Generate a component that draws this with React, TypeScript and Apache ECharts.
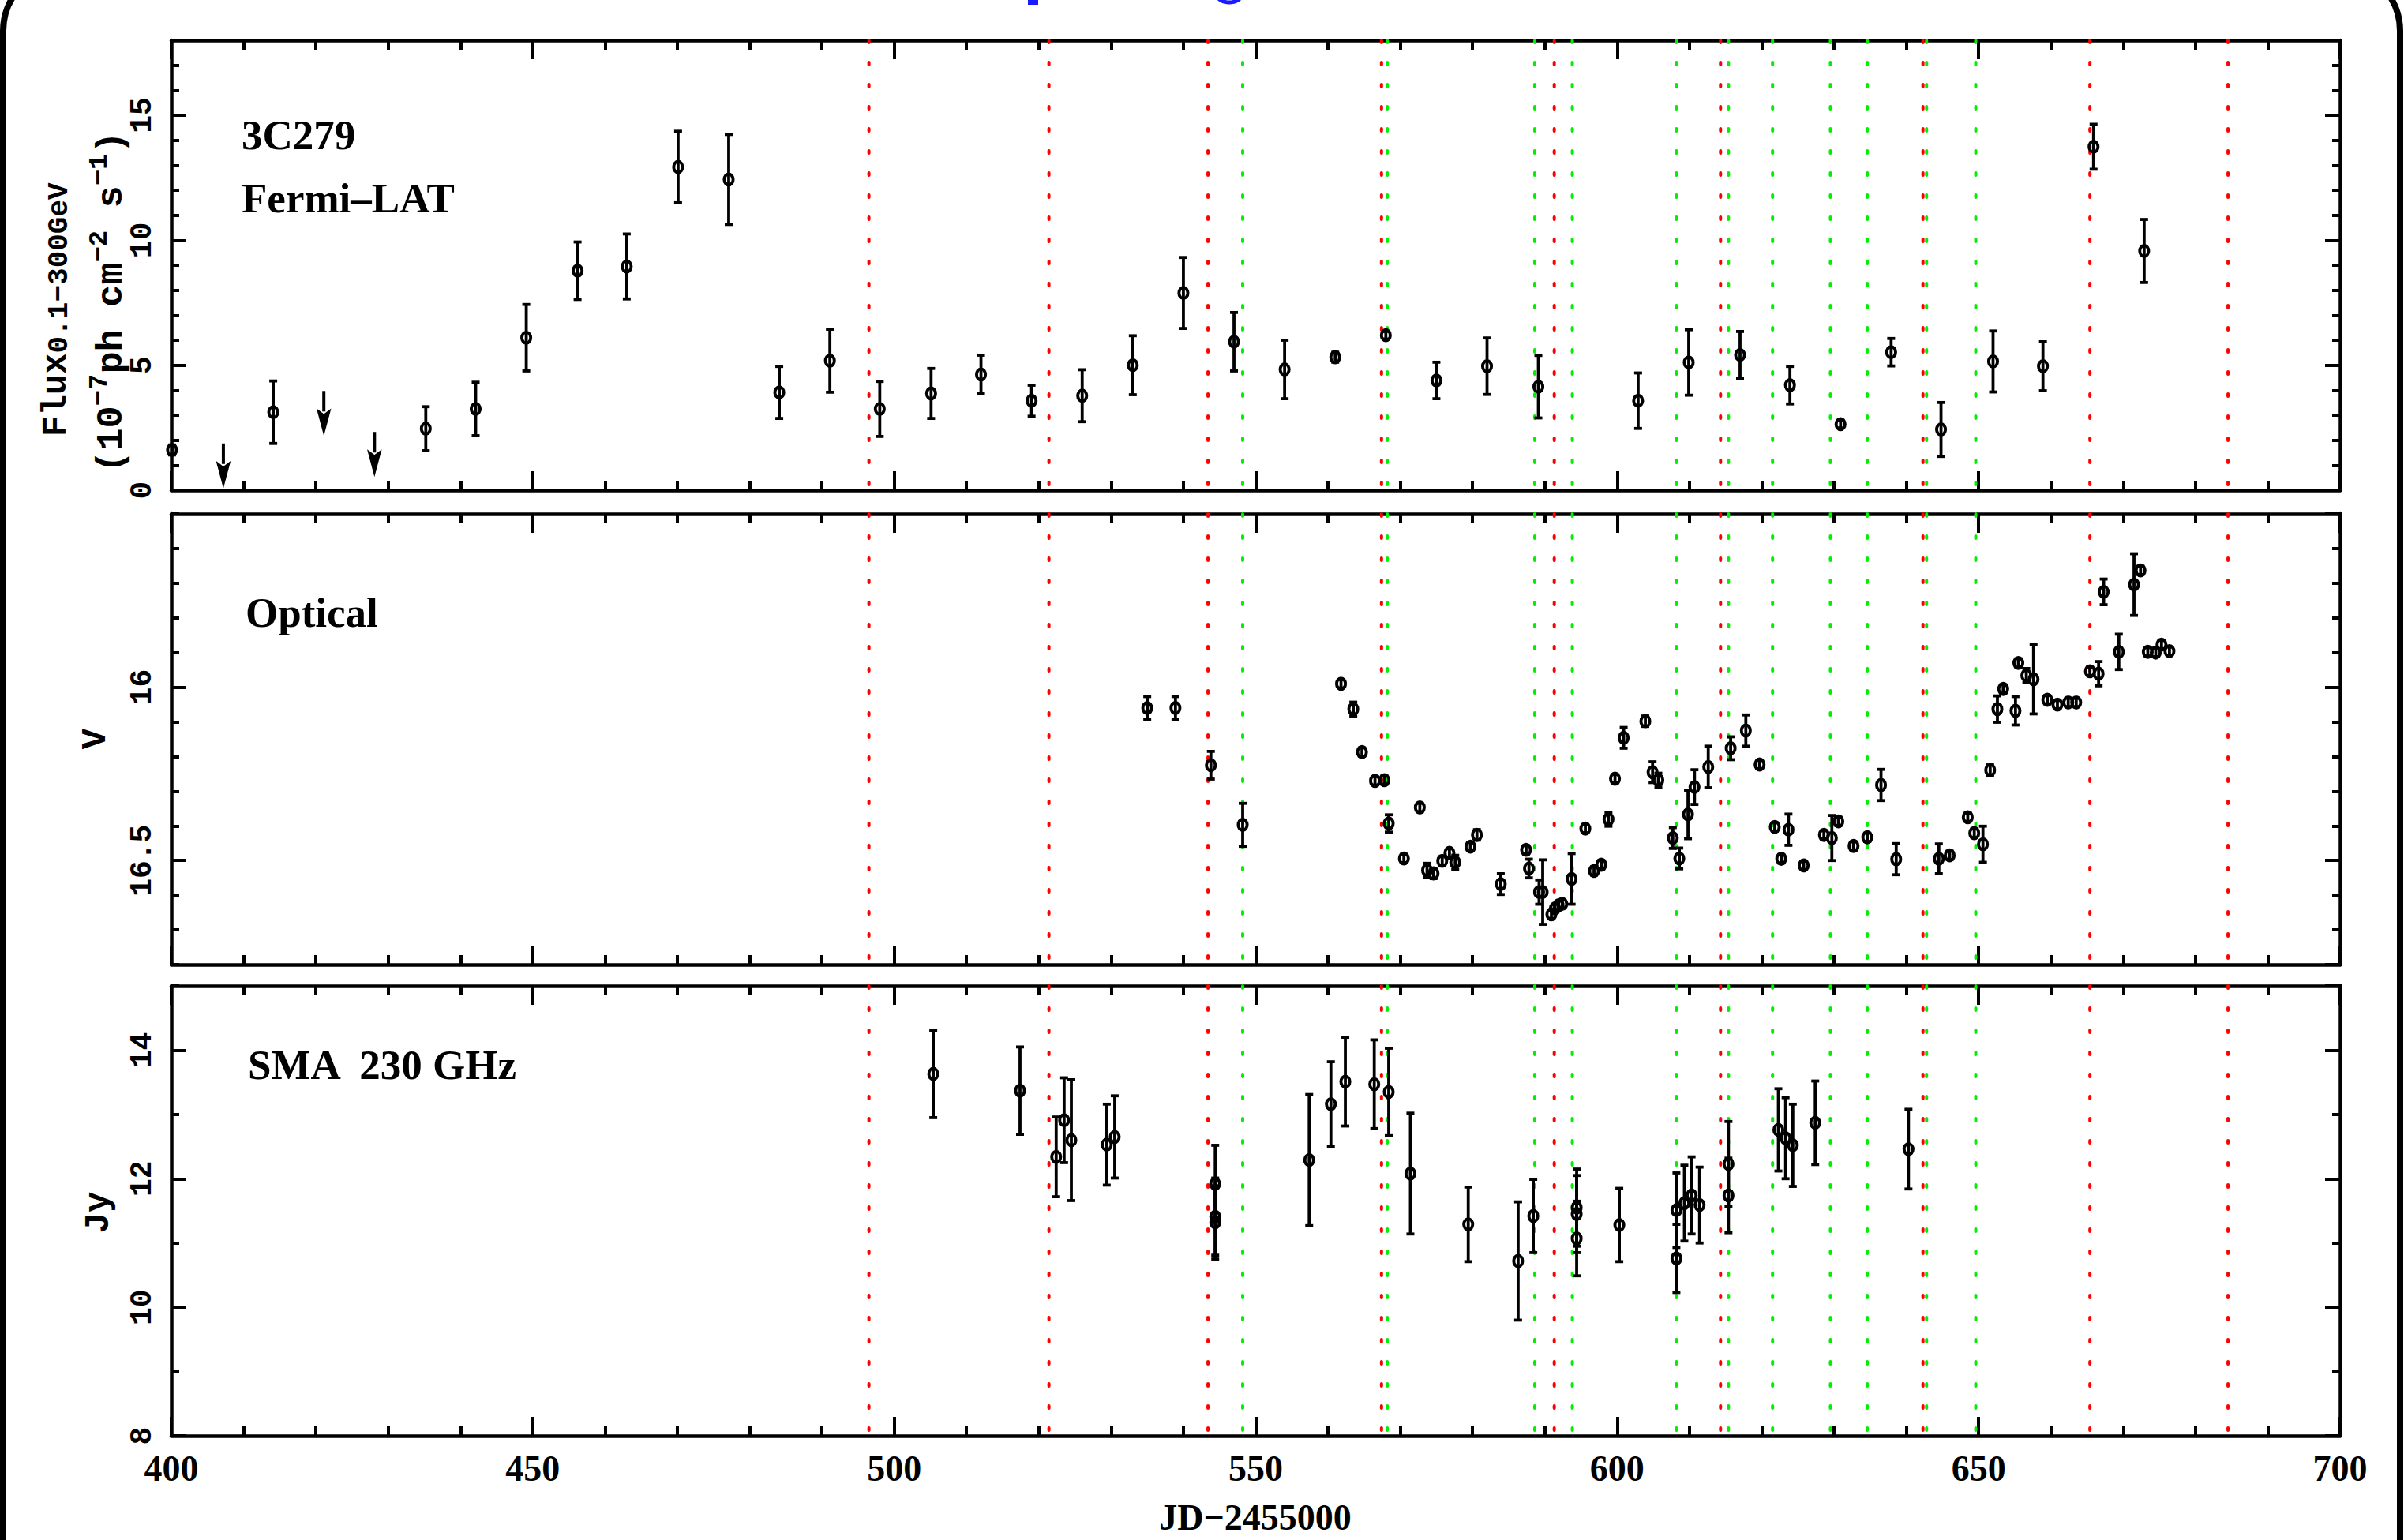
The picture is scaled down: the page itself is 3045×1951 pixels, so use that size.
import React, { useEffect, useRef } from "react";
import * as echarts from "echarts";

// ---------------- data ----------------
const X_MIN = 400;
const X_MAX = 700;

const redLines = [496.5, 521.4, 543.4, 567.4, 591.3, 614.3, 642.3, 665.4, 684.5];
const greenLines = [548.2, 568.2, 588.6, 593.8, 608.2, 615.4, 621.5, 629.5, 634.6, 642.8, 649.6];

const fermiDays = [400.1, 414.1, 435.2, 442.1, 449.1, 456.2, 463.0, 470.1, 477.1, 484.1, 491.1, 498.0, 505.1, 512.0, 519.0, 526.0, 533.0, 540.0, 547.0, 554.0, 561.0, 568.0, 575.0, 582.0, 589.1, 602.9, 609.9, 617.0, 623.9, 630.9, 637.9, 644.8, 652.0, 658.9, 665.9, 672.9];
const fermiFlux = [1.61, 3.12, 2.46, 3.25, 6.10, 8.78, 8.95, 12.93, 12.43, 3.91, 5.18, 3.25, 3.87, 4.63, 3.58, 3.78, 5.0, 7.89, 5.94, 4.83, 5.32, 6.20, 4.39, 4.96, 4.14, 3.58, 5.11, 5.41, 4.20, 2.64, 5.52, 2.43, 5.15, 4.96, 13.74, 9.57];
const fermiErr = [0.2, 1.25, 0.88, 1.07, 1.33, 1.15, 1.3, 1.43, 1.8, 1.04, 1.26, 1.1, 1.0, 0.77, 0.62, 1.04, 1.18, 1.42, 1.17, 1.17, 0.2, 0.15, 0.73, 1.13, 1.25, 1.11, 1.31, 0.94, 0.75, 0.15, 0.55, 1.08, 1.22, 0.98, 0.9, 1.26];
const fermiUlDays = [407.2, 421.1, 428.1];
const fermiUlFlux = [1.87, 3.97, 2.33];

const optDays = [535.0, 538.9, 543.8, 548.2, 561.8, 563.5, 564.7, 566.5, 567.8, 568.4, 570.5, 572.7, 573.7, 574.6, 575.8, 576.8, 577.6, 579.7, 580.6, 583.9, 587.4, 587.8, 589.2, 589.7, 590.9, 591.4, 591.9, 592.4, 593.7, 595.6, 596.8, 597.8, 598.8, 599.7, 600.9, 603.9, 604.9, 605.7, 607.7, 608.6, 609.8, 610.7, 612.6, 615.7, 617.8, 619.7, 621.8, 622.7, 623.7, 625.8, 628.6, 629.7, 630.6, 632.7, 634.6, 636.5, 638.6, 644.5, 646.0, 648.5, 649.4, 650.6, 651.6, 652.6, 653.4, 655.1, 655.5, 656.6, 657.6, 659.5, 660.9, 662.4, 663.5, 665.4, 666.6, 667.3, 669.4, 671.5, 672.4, 673.4, 674.5, 675.3, 676.4];
const optMag = [16.06, 16.06, 16.225, 16.397, 15.99, 16.063, 16.187, 16.27, 16.268, 16.393, 16.494, 16.347, 16.528, 16.537, 16.501, 16.478, 16.505, 16.46, 16.426, 16.568, 16.469, 16.523, 16.591, 16.591, 16.655, 16.638, 16.629, 16.625, 16.553, 16.408, 16.53, 16.512, 16.381, 16.264, 16.146, 16.098, 16.245, 16.268, 16.435, 16.494, 16.367, 16.288, 16.23, 16.176, 16.125, 16.223, 16.403, 16.495, 16.411, 16.514, 16.426, 16.435, 16.387, 16.458, 16.433, 16.282, 16.496, 16.495, 16.485, 16.375, 16.421, 16.453, 16.239, 16.063, 16.005, 16.068, 15.93, 15.966, 15.977, 16.036, 16.05, 16.044, 16.044, 15.954, 15.961, 15.725, 15.898, 15.704, 15.663, 15.898, 15.9, 15.877, 15.896];
const optErr = [0.033, 0.033, 0.04, 0.062, 0.012, 0.02, 0.012, 0.012, 0.012, 0.025, 0.012, 0.012, 0.02, 0.015, 0.012, 0.012, 0.02, 0.012, 0.015, 0.03, 0.012, 0.027, 0.035, 0.093, 0.012, 0.012, 0.012, 0.012, 0.073, 0.012, 0.012, 0.012, 0.02, 0.012, 0.03, 0.015, 0.03, 0.02, 0.03, 0.03, 0.07, 0.05, 0.06, 0.033, 0.045, 0.012, 0.012, 0.012, 0.045, 0.012, 0.012, 0.065, 0.012, 0.012, 0.012, 0.045, 0.045, 0.043, 0.012, 0.012, 0.012, 0.052, 0.015, 0.038, 0.012, 0.041, 0.012, 0.02, 0.1, 0.012, 0.012, 0.012, 0.012, 0.012, 0.035, 0.037, 0.051, 0.089, 0.012, 0.012, 0.012, 0.012, 0.012];

const smaDays = [505.4, 517.4, 522.4, 523.5, 524.5, 529.4, 530.5, 544.4, 544.4, 544.4, 557.4, 560.4, 562.4, 566.4, 568.4, 571.4, 579.4, 586.3, 588.4, 594.4, 594.4, 594.4, 600.3, 608.2, 608.2, 609.3, 610.3, 611.4, 615.4, 615.4, 622.3, 623.3, 624.3, 627.4, 640.3];
const smaJy = [13.63, 13.37, 12.34, 12.91, 12.60, 12.53, 12.65, 11.92, 11.41, 11.32, 12.29, 13.16, 13.51, 13.47, 13.35, 12.08, 11.29, 10.72, 11.42, 11.55, 11.45, 11.07, 11.28, 11.51, 10.76, 11.62, 11.74, 11.59, 12.23, 11.74, 12.76, 12.63, 12.52, 12.87, 12.46];
const smaErr = [0.68, 0.68, 0.62, 0.66, 0.94, 0.63, 0.64, 0.6, 0.6, 0.57, 1.02, 0.66, 0.69, 0.69, 0.68, 0.94, 0.58, 0.92, 0.57, 0.6, 0.6, 0.58, 0.57, 0.58, 0.53, 0.59, 0.6, 0.59, 0.66, 0.58, 0.64, 0.63, 0.64, 0.65, 0.62];

// ---------------- layout / style ----------------
const W = 3045;
const H = 1951;
const GRID_LEFT = 217;
const GRID_RIGHT = 81;
const panels = [
  { top: 51, height: 570, yMin: 0, yMax: 18, major: 5, minor: 1, inverse: false },
  { top: 651, height: 571, yMin: 15.5, yMax: 16.8, major: 0.5, minor: 0.1, inverse: true },
  { top: 1249, height: 570, yMin: 8, yMax: 15, major: 2, minor: 1, inverse: false },
];

const BLACK = "#000000";
const RED = "#ff0000";
const GREEN = "#00f000";
const MONO = "'Liberation Mono', 'DejaVu Sans Mono', monospace";
const SERIF = "'Liberation Serif', 'DejaVu Serif', serif";

function pointRender(params: any, api: any) {
  const x = api.value(0);
  const y = api.value(1);
  const e = api.value(2);
  const c = api.coord([x, y]);
  const p1 = api.coord([x, y + e]);
  const p2 = api.coord([x, y - e]);
  const ls = { stroke: BLACK, lineWidth: 3.8, fill: null };
  const capW = 5;
  return {
    type: "group",
    children: [
      { type: "line", shape: { x1: c[0], y1: p1[1], x2: c[0], y2: p2[1] }, style: ls },
      { type: "line", shape: { x1: c[0] - capW, y1: p1[1], x2: c[0] + capW, y2: p1[1] }, style: ls },
      { type: "line", shape: { x1: c[0] - capW, y1: p2[1], x2: c[0] + capW, y2: p2[1] }, style: ls },
      { type: "ellipse", shape: { cx: c[0], cy: c[1], rx: 5.6, ry: 7 }, style: { stroke: BLACK, lineWidth: 3.9, fill: "none" } },
    ],
  };
}

function ulRender(params: any, api: any) {
  const c = api.coord([api.value(0), api.value(1)]);
  const len = 54;
  const headL = 30;
  const headW = 8;
  return {
    type: "group",
    children: [
      { type: "line", shape: { x1: c[0], y1: c[1], x2: c[0], y2: c[1] + len - headL + 2 }, style: { stroke: BLACK, lineWidth: 4 } },
      {
        type: "polygon",
        shape: { points: [[c[0] - headW, c[1] + len - headL], [c[0], c[1] + len - headL + 6], [c[0] + headW, c[1] + len - headL], [c[0], c[1] + len]] },
        style: { fill: BLACK, stroke: BLACK, lineWidth: 1.5 },
      },
    ],
  };
}

function vlineRender(color: string) {
  return (params: any, api: any) => {
    const cs = params.coordSys;
    const x = api.coord([api.value(0), api.value(1)])[0];
    return {
      type: "line",
      shape: { x1: x, y1: cs.y, x2: x, y2: cs.y + cs.height },
      style: { stroke: color, lineWidth: 4, lineDash: [3, 25], lineCap: "round" },
    };
  };
}

function buildOption() {
  const grids: any[] = [];
  const xAxes: any[] = [];
  const yAxes: any[] = [];
  const series: any[] = [];

  const tickStyle = { color: BLACK, width: 4 };
  const axisLine = { show: true, onZero: false, lineStyle: { color: BLACK, width: 4.5 } };

  panels.forEach((p, i) => {
    grids.push({ left: GRID_LEFT, right: GRID_RIGHT, top: p.top, height: p.height, containLabel: false });
    ["bottom", "top"].forEach((pos) => {
      xAxes.push({
        type: "value",
        gridIndex: i,
        position: pos,
        min: X_MIN,
        max: X_MAX,
        interval: 50,
        axisLine,
        axisTick: { show: true, inside: true, length: 24, lineStyle: tickStyle },
        minorTick: { show: true, splitNumber: 5, length: 12, lineStyle: tickStyle },
        splitLine: { show: false },
        minorSplitLine: { show: false },
        axisLabel: {
          show: i === 2 && pos === "bottom",
          fontFamily: SERIF,
          fontWeight: "bold",
          fontSize: 46,
          color: BLACK,
          margin: 18,
        },
      });
    });
    ["left", "right"].forEach((pos) => {
      yAxes.push({
        type: "value",
        gridIndex: i,
        position: pos,
        min: p.yMin,
        max: p.yMax,
        interval: p.major,
        inverse: p.inverse,
        axisLine,
        axisTick: { show: true, inside: true, length: 19, lineStyle: tickStyle },
        splitLine: { show: false },
        axisLabel: {
          show: pos === "left",
          rotate: 90,
          fontFamily: MONO,
          fontWeight: "bold",
          fontSize: 38,
          color: BLACK,
          margin: 18,
          showMinLabel: !p.inverse,
          showMaxLabel: false,
        },
      });
      yAxes.push({
        type: "value",
        gridIndex: i,
        position: pos,
        min: p.yMin,
        max: p.yMax,
        interval: p.minor,
        inverse: p.inverse,
        axisLine: { show: false, onZero: false },
        axisTick: { show: true, inside: true, length: 10, lineStyle: tickStyle },
        splitLine: { show: false },
        axisLabel: { show: false },
      });
    });

    const xi = 2 * i;
    const yi = 4 * i;
    series.push({
      type: "custom",
      xAxisIndex: xi,
      yAxisIndex: yi,
      z: 1,
      silent: true,
      renderItem: vlineRender(RED),
      encode: { x: 0, y: 1 },
      data: redLines.map((d) => [d, p.yMin]),
    });
    series.push({
      type: "custom",
      xAxisIndex: xi,
      yAxisIndex: yi,
      z: 1,
      silent: true,
      renderItem: vlineRender(GREEN),
      encode: { x: 0, y: 1 },
      data: greenLines.map((d) => [d, p.yMin]),
    });
  });

  series.push({
    type: "custom",
    xAxisIndex: 0,
    yAxisIndex: 0,
    z: 5,
    renderItem: pointRender,
    encode: { x: 0, y: 1 },
    data: fermiDays.map((d, k) => [d, fermiFlux[k], fermiErr[k]]),
  });
  series.push({
    type: "custom",
    xAxisIndex: 0,
    yAxisIndex: 0,
    z: 5,
    renderItem: ulRender,
    encode: { x: 0, y: 1 },
    data: fermiUlDays.map((d, k) => [d, fermiUlFlux[k]]),
  });
  series.push({
    type: "custom",
    xAxisIndex: 2,
    yAxisIndex: 4,
    z: 5,
    renderItem: pointRender,
    encode: { x: 0, y: 1 },
    data: optDays.map((d, k) => [d, optMag[k], optErr[k]]),
  });
  series.push({
    type: "custom",
    xAxisIndex: 4,
    yAxisIndex: 8,
    z: 5,
    renderItem: pointRender,
    encode: { x: 0, y: 1 },
    data: smaDays.map((d, k) => [d, smaJy[k], smaErr[k]]),
  });

  const labelStyle = (text: string) => ({
    text,
    fontFamily: SERIF,
    fontWeight: "bold",
    fontSize: 53,
    fill: BLACK,
    align: "left",
    verticalAlign: "middle",
  });

  const graphic: any[] = [
    // slide frame
    {
      type: "rect",
      shape: { x: 4, y: -41, width: 3036, height: 2100, r: 80 },
      style: { fill: "none", stroke: BLACK, lineWidth: 8 },
      silent: true,
      z: 0,
    },
    // bits of blue title text cut off at the top
    { type: "rect", shape: { x: 1302, y: -10, width: 13, height: 16 }, style: { fill: "#1a1aff" }, silent: true },
    { type: "ellipse", shape: { cx: 1557, cy: -6, rx: 15, ry: 9 }, style: { fill: "none", stroke: "#1a1aff", lineWidth: 5 }, silent: true },
    // panel labels
    { type: "text", x: 306, y: 171, style: labelStyle("3C279"), silent: true },
    { type: "text", x: 306, y: 251, style: labelStyle("Fermi–LAT"), silent: true },
    { type: "text", x: 311, y: 776, style: labelStyle("Optical"), silent: true },
    { type: "text", x: 314, y: 1349, style: labelStyle("SMA  230 GHz"), silent: true },
    // y axis titles
    {
      type: "text",
      x: 68,
      y: 553,
      rotation: Math.PI / 2,
      silent: true,
      style: {
        text: "{m|Flux}{s|0.1−300GeV}",
        align: "left",
        verticalAlign: "middle",
        fill: BLACK,
        rich: {
          m: { fontFamily: MONO, fontWeight: "bold", fontSize: 44, lineHeight: 50, verticalAlign: "bottom", fill: BLACK },
          s: { fontFamily: MONO, fontWeight: "bold", fontSize: 36, lineHeight: 42, verticalAlign: "bottom", fill: BLACK },
        },
      },
    },
    {
      type: "text",
      x: 137,
      y: 599,
      rotation: Math.PI / 2,
      silent: true,
      style: {
        text: "{m|(10}{p|−7}{m|ph cm}{p|−2}{m| s}{p|−1}{m|)}",
        align: "left",
        verticalAlign: "middle",
        fill: BLACK,
        rich: {
          m: { fontFamily: MONO, fontWeight: "bold", fontSize: 47, lineHeight: 56, verticalAlign: "bottom", fill: BLACK },
          p: { fontFamily: MONO, fontWeight: "bold", fontSize: 34, lineHeight: 40, verticalAlign: "top", fill: BLACK },
        },
      },
    },
    {
      type: "text",
      x: 121,
      y: 936,
      rotation: Math.PI / 2,
      silent: true,
      style: { text: "V", fontFamily: MONO, fontWeight: "bold", fontSize: 44, fill: BLACK, align: "center", verticalAlign: "middle" },
    },
    {
      type: "text",
      x: 125,
      y: 1536,
      rotation: Math.PI / 2,
      silent: true,
      style: { text: "Jy", fontFamily: MONO, fontWeight: "bold", fontSize: 44, fill: BLACK, align: "center", verticalAlign: "middle" },
    },
    // x axis title
    {
      type: "text",
      x: 1590,
      y: 1922,
      silent: true,
      style: { text: "JD−2455000", fontFamily: SERIF, fontWeight: "bold", fontSize: 46, fill: BLACK, align: "center", verticalAlign: "middle" },
    },
  ];

  return {
    animation: false,
    backgroundColor: "#ffffff",
    grid: grids,
    xAxis: xAxes,
    yAxis: yAxes,
    series,
    graphic,
  };
}

export default function App() {
  const ref = useRef<HTMLDivElement>(null);
  useEffect(() => {
    document.body.style.margin = "0";
    if (!ref.current) return;
    const chart = echarts.init(ref.current, null, { renderer: "svg", width: W, height: H });
    chart.setOption(buildOption() as any);
    return () => chart.dispose();
  }, []);
  return <div ref={ref} style={{ position: "fixed", left: 0, top: 0, width: W, height: H, background: "#fff" }} />;
}
